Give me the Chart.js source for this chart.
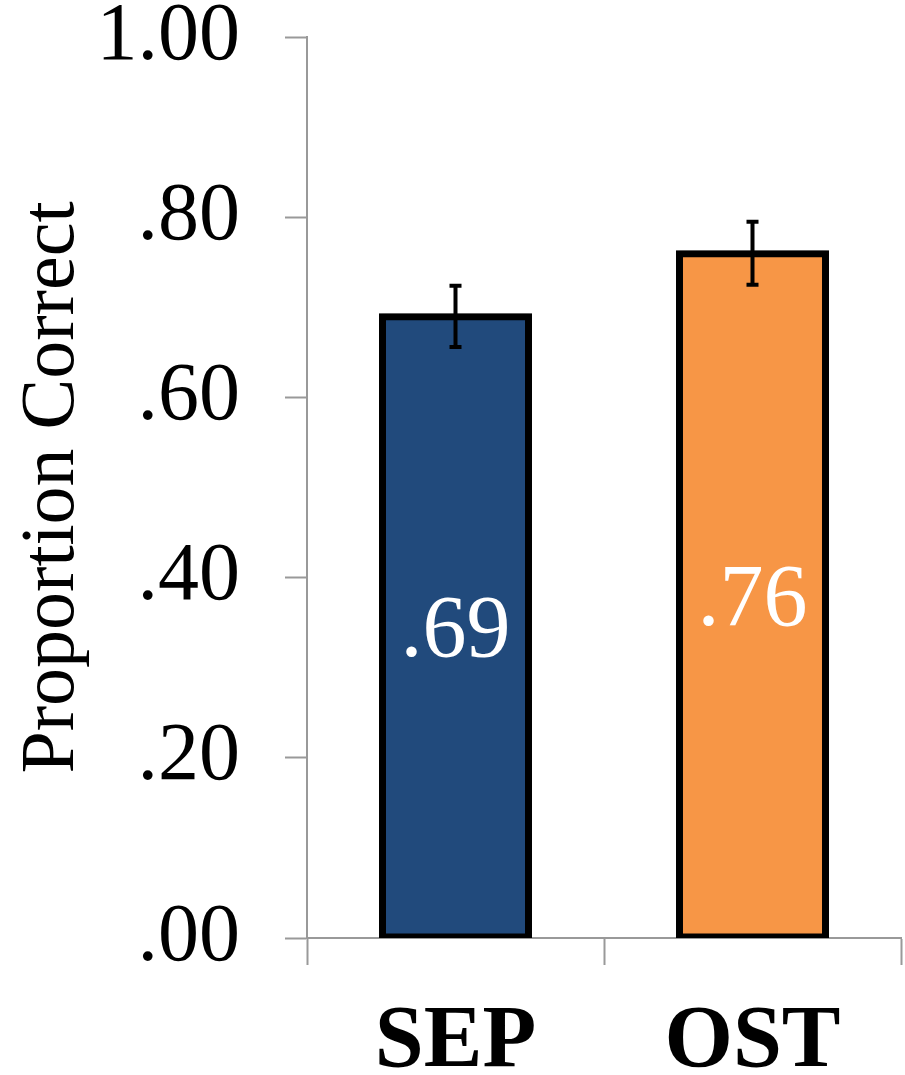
<!DOCTYPE html>
<html>
<head>
<meta charset="utf-8">
<script src="https://cdn.jsdelivr.net/npm/chart.js@4/dist/chart.umd.min.js"></script>
<style>
  body { margin: 0; background: #fff; }
  #wrap { width: 905px; height: 1075px; position: relative; }
</style>
</head>
<body>
<div id="wrap"><canvas id="barChart"></canvas></div>
<script>
const categories = ["SEP", "OST"];
const proportions = [0.69, 0.76];
const errors = [0.034, 0.035];
const valueLabels = [".69", ".76"];
const barColors = ["#214a7c", "#f79646"];
const yTicks = [0, 0.2, 0.4, 0.6, 0.8, 1.0];

const serif = "'Liberation Serif', 'DejaVu Serif', serif";
const axisGray = "#999999";

const fmtTick = (v) => {
  let s = Number(v).toFixed(2);
  return s.startsWith("0") ? s.slice(1) : s;
};

// soft shadow behind the bars
const barShadow = {
  id: "barShadow",
  beforeDatasetsDraw(chart) {
    const ctx = chart.ctx;
    ctx.save();
    ctx.shadowColor = "rgba(0,0,0,0.35)";
    ctx.shadowBlur = 6;
  },
  afterDatasetsDraw(chart) {
    chart.ctx.restore();
  },
};

// error bars + value labels in the middle of each bar
const barExtras = {
  id: "barExtras",
  afterDatasetsDraw(chart) {
    const ctx = chart.ctx;
    const y = chart.scales.y;
    const meta = chart.getDatasetMeta(0);
    meta.data.forEach((bar, i) => {
      const top = y.getPixelForValue(proportions[i] + errors[i]);
      const bot = y.getPixelForValue(proportions[i] - errors[i]);
      ctx.save();
      ctx.strokeStyle = "#000";
      ctx.lineWidth = 4;
      ctx.beginPath();
      ctx.moveTo(bar.x, top);
      ctx.lineTo(bar.x, bot);
      ctx.moveTo(bar.x - 6, top);
      ctx.lineTo(bar.x + 6, top);
      ctx.moveTo(bar.x - 6, bot);
      ctx.lineTo(bar.x + 6, bot);
      ctx.stroke();

      const mid = y.getPixelForValue(proportions[i] / 2);
      ctx.fillStyle = "#fff";
      ctx.font = "88px " + serif;
      ctx.textAlign = "center";
      ctx.textBaseline = "middle";
      ctx.fillText(valueLabels[i], bar.x, mid + 6);
      ctx.restore();
    });
  },
};

const ctx = document.getElementById("barChart").getContext("2d");

window.barChart = new Chart(ctx, {
  type: "bar",
  data: {
    labels: categories,
    datasets: [
      {
        data: proportions,
        backgroundColor: barColors,
        borderColor: "#000",
        borderWidth: 7,
        borderSkipped: false,
        inflateAmount: 3,
        barPercentage: 0.495,
        categoryPercentage: 1,
      },
    ],
  },
  plugins: [barShadow, barExtras],
  options: {
    responsive: true,
    maintainAspectRatio: false,
    animation: false,
    layout: {
      padding: { top: 37, right: 4, left: 0, bottom: 0 },
    },
    plugins: {
      legend: { display: false },
      tooltip: { enabled: false },
    },
    scales: {
      x: {
        grid: {
          offset: true,
          drawOnChartArea: false,
          drawTicks: true,
          tickLength: 27,
          tickWidth: 2,
          tickColor: axisGray,
        },
        border: { color: axisGray, width: 2 },
        ticks: {
          color: "#000",
          padding: 25,
          font: { family: serif, size: 88, weight: "bold" },
        },
        afterFit(scale) {
          scale.height = 137;
        },
      },
      y: {
        min: 0,
        max: 1,
        afterBuildTicks(scale) {
          scale.ticks = yTicks.map((v) => ({ value: v }));
        },
        grid: {
          drawOnChartArea: false,
          drawTicks: true,
          tickLength: 22,
          tickWidth: 2,
          tickColor: axisGray,
        },
        border: { color: axisGray, width: 2 },
        ticks: {
          color: "#000",
          padding: 45,
          font: { family: serif, size: 82 },
          callback: (v) => fmtTick(v),
        },
        title: {
          display: true,
          text: "Proportion Correct",
          color: "#000",
          font: { family: serif, size: 76 },
          padding: { top: 7, bottom: 0 },
        },
        afterFit(scale) {
          scale.width = 307;
          scale.paddingTop = 0;
          scale.paddingBottom = 0;
        },
      },
    },
  },
});
</script>
</body>
</html>
